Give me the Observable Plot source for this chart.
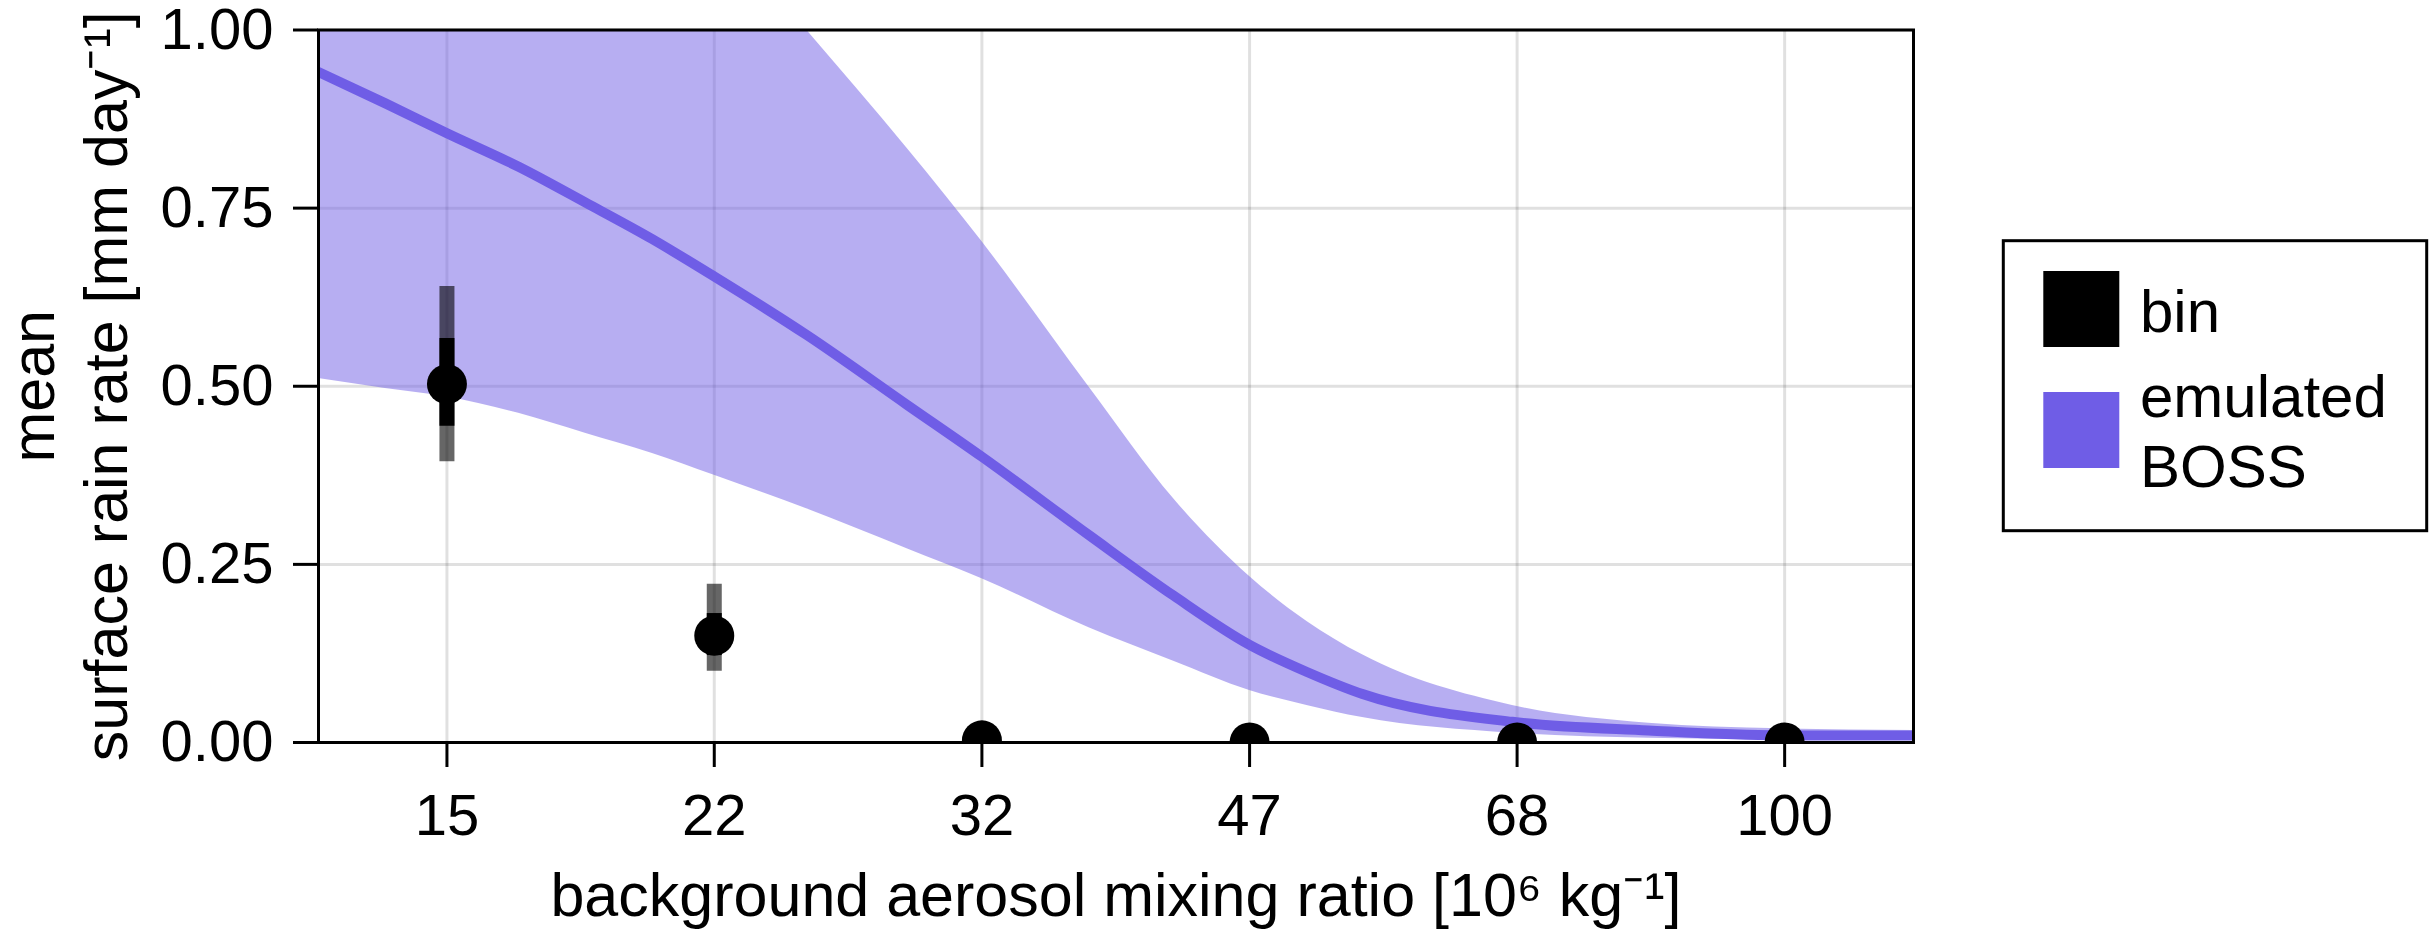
<!DOCTYPE html>
<html>
<head>
<meta charset="utf-8">
<script src="https://cdn.jsdelivr.net/npm/d3@7"></script>
<script src="https://cdn.jsdelivr.net/npm/@observablehq/plot@0.6"></script>
<style>
  body { margin: 0; background: #fff; }
  #wrap { position: relative; width: 2435px; height: 930px; font-family: "Liberation Sans", Arial, sans-serif; }
  #legend { position: absolute; left: 2000px; top: 238px; }
</style>
</head>
<body>
<div id="wrap"></div>
<script>
// ---- data ----
const xTicks = [14.68, 21.54, 31.62, 46.42, 68.13, 100];
const xTickLabels = ["15", "22", "32", "47", "68", "100"];
const yTicks = [0, 0.25, 0.5, 0.75, 1];

// bin simulation results
const binX = [14.68, 21.54, 31.62, 46.42, 68.13, 100];
const binMean = [0.503, 0.150, 0.003, 0, 0, 0];
const binInnerLo = [0.444, 0.122, null, null, null, null];
const binInnerHi = [0.567, 0.181, null, null, null, null];
const binOuterLo = [0.394, 0.100, null, null, null, null];
const binOuterHi = [0.640, 0.222, null, null, null, null];

// emulated BOSS curve
const curveX = [12.21, 13.44, 14.68, 16.27, 17.90, 19.69, 21.54, 24.59, 28.40, 31.62,
                36.87, 41.63, 46.42, 50.40, 54.58, 67.67, 82.27, 100, 120.3];
const meanRate = [0.941, 0.897, 0.855, 0.808, 0.758, 0.707, 0.654, 0.572, 0.474, 0.401,
                  0.291, 0.206, 0.137, 0.099, 0.068, 0.029, 0.017, 0.010, 0.010];
const lowerRate = [0.511, 0.497, 0.485, 0.462, 0.434, 0.406, 0.375, 0.328, 0.272, 0.230,
                   0.161, 0.114, 0.073, 0.052, 0.035, 0.013, 0.006, 0.004, 0.003];
const upperRate = [1.60, 1.55, 1.50, 1.43, 1.36, 1.27, 1.15, 1.00, 0.834, 0.703,
                   0.499, 0.342, 0.233, 0.170, 0.123, 0.052, 0.027, 0.019, 0.017];

const legendItems = [
  {label: ["bin"], color: "#000000"},
  {label: ["emulated", "BOSS"], color: "#6f5de6"}
];

// ---- tables ----
const curve = curveX.map((x, i) => ({x, mean: meanRate[i], lo: lowerRate[i], hi: upperRate[i]}));
const bins = binX.map((x, i) => ({x, mean: binMean[i], ilo: binInnerLo[i], ihi: binInnerHi[i], olo: binOuterLo[i], ohi: binOuterHi[i]}));
const errs = bins.filter(d => d.ilo != null);

const purple = "#6f5de6";
const FONT = "Liberation Sans, Arial, sans-serif";

const chart = Plot.plot({
  width: 2435,
  height: 930,
  marginLeft: 318,
  marginRight: 522,
  marginTop: 29.5,
  marginBottom: 188,
  x: {type: "log", domain: [12.21, 120.3]},
  y: {domain: [0, 1]},
  style: {fontFamily: FONT, background: "white", color: "black", overflow: "visible"},
  marks: [
    Plot.gridX(xTicks, {stroke: "black", strokeOpacity: 0.12, strokeWidth: 3}),
    Plot.gridY(yTicks, {stroke: "black", strokeOpacity: 0.12, strokeWidth: 3}),
    Plot.areaY(curve, {x: "x", y1: "lo", y2: "hi", fill: purple, fillOpacity: 0.5, curve: "monotone-x", clip: true}),
    Plot.lineY(curve, {x: "x", y: "mean", stroke: purple, strokeWidth: 10, curve: "monotone-x", clip: true}),
    Plot.ruleX(errs, {x: "x", y1: "olo", y2: "ohi", stroke: "black", strokeOpacity: 0.6, strokeWidth: 15}),
    Plot.ruleX(errs, {x: "x", y1: "ilo", y2: "ihi", stroke: "black", strokeWidth: 15}),
    Plot.dot(bins, {x: "x", y: "mean", r: 20, fill: "black", stroke: null, clip: true}),
    Plot.frame({stroke: "black", strokeWidth: 3}),
    Plot.axisX(xTicks, {
      tickFormat: d => xTickLabels[xTicks.indexOf(d)],
      tickSize: 25, tickPadding: 26, fontSize: 58, strokeWidth: 3, label: null
    }),
    Plot.axisY(yTicks, {
      tickFormat: d3.format(".2f"),
      tickSize: 25, tickPadding: 20, fontSize: 58, strokeWidth: 3, label: null
    }),
    Plot.text(["background aerosol mixing ratio [10⁶ kg⁻¹]"], {
      frameAnchor: "bottom", lineAnchor: "bottom", dy: 173, fontSize: 61, fill: "black"
    }),
    Plot.text(["mean\nsurface rain rate [mm day⁻¹]"], {
      frameAnchor: "left", rotate: -90, lineAnchor: "middle", lineHeight: 1.2,
      dx: -251.8, fontSize: 61, fill: "black", textAnchor: "middle"
    })
  ]
});

const wrap = document.getElementById("wrap");
wrap.appendChild(chart);

// ---- legend ----
const lg = d3.create("svg")
  .attr("id", "legend")
  .attr("width", 430)
  .attr("height", 296)
  .style("font-family", FONT);
lg.append("rect")
  .attr("x", 3.3).attr("y", 2.7).attr("width", 423.4).attr("height", 290)
  .attr("fill", "white").attr("stroke", "black").attr("stroke-width", 3);
const rowTop = [33, 154];
legendItems.forEach((item, i) => {
  lg.append("rect")
    .attr("x", 43.3).attr("y", rowTop[i]).attr("width", 76).attr("height", 76)
    .attr("fill", item.color);
  const t = lg.append("text")
    .attr("x", 140).attr("font-size", 60).attr("fill", "black");
  if (item.label.length === 1) {
    t.attr("y", rowTop[i] + 61).text(item.label[0]);
  } else {
    item.label.forEach((s, j) => {
      t.append("tspan").attr("x", 140).attr("y", rowTop[i] + 25 + j * 70).text(s);
    });
  }
});
wrap.appendChild(lg.node());
</script>
</body>
</html>
